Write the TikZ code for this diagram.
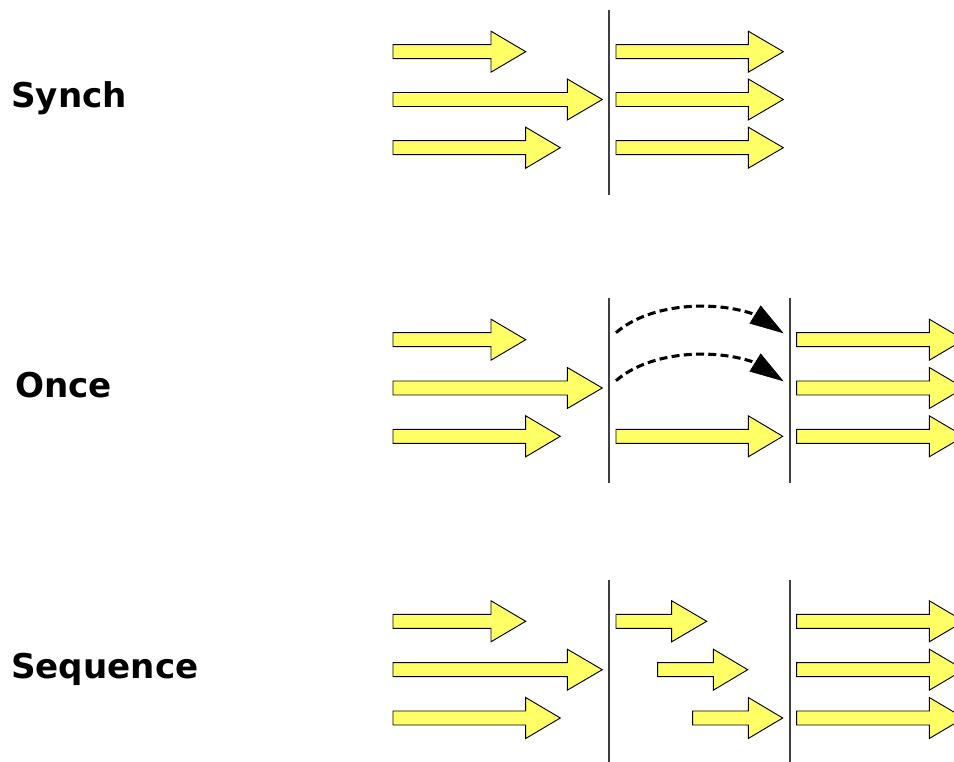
\documentclass[tikz,border=0pt]{standalone}
\usepackage{fontspec}
\setmainfont{DejaVu Sans}
\usetikzlibrary{arrows.meta}
\definecolor{arrowfill}{RGB}{255,255,102}
\tikzset{
  fatarrow/.style={draw=black, fill=arrowfill, line width=0.7pt, line join=miter},
  barrier/.style={draw=black!75, line width=0.9pt},
  hop/.style={draw=black, line width=2.3pt, dash pattern=on 6pt off 3.2pt},
  hophead/.style={fill=black, draw=black, line width=0.5pt, line join=miter},
  label/.style={anchor=base west, inner sep=0pt, font=\bfseries\fontsize{25.6}{30}\selectfont}
}
% \blockarrow{tail x}{centre y}{head base x}{tip x}
\newcommand\blockarrow[4]{%
  \path[fatarrow] (#1,#2-7) -- (#3,#2-7) -- (#3,#2-20.5) -- (#4,#2)
    -- (#3,#2+20.5) -- (#3,#2+7) -- (#1,#2+7) -- cycle;}
% \hoparrow{y offset}: dashed jump over the middle section
\newcommand\hoparrow[1]{%
  \begin{scope}[yshift=-#1*0.75pt]
    \coordinate (hs) at (616,332.7);
    \coordinate (hb) at (755.3,314.7);
    \coordinate (he) at (782.7,332.7);
    \draw[hop] (hs) .. controls (650,303) and (715,300) .. (hb);
    \path[hophead] (760.7,306) -- (he) -- (750,323.3) -- cycle;
  \end{scope}}
\begin{document}
\begin{tikzpicture}[x=0.75pt, y=-0.75pt]
\path[use as bounding box] (0,0) rectangle (954,762);
\clip (0,0) rectangle (954,762);

% row labels
\node[label] (synch) at (11,107.7) {Synch};
\node[label] (once) at (15,397.7) {Once};
\node[label] (sequence) at (11,678.3) {Sequence};

% --- Synch ---
\blockarrow{393}{51.7}{491}{525.7}
\blockarrow{393}{99.5}{567.3}{602.3}
\blockarrow{393}{147.7}{525.7}{560.3}
\draw[barrier] (609,10) -- (609,195);
\blockarrow{616}{51.7}{748.3}{783.3}
\blockarrow{616}{99.5}{748.3}{783.3}
\blockarrow{616}{147.7}{748.3}{783.3}

% --- Once ---
\blockarrow{393}{339.7}{491}{525.7}
\blockarrow{393}{388}{567.3}{602.3}
\blockarrow{393}{436.3}{525.7}{560.3}
\draw[barrier] (609,298) -- (609,483);
\hoparrow{0}
\hoparrow{48}
\blockarrow{616}{436.3}{748.3}{782.7}
\draw[barrier] (790,298) -- (790,483);
\blockarrow{796.7}{339.7}{929.3}{964}
\blockarrow{796.7}{388}{929.3}{964}
\blockarrow{796.7}{436.3}{929.3}{964}

% --- Sequence ---
\blockarrow{393}{621.3}{491}{525.7}
\blockarrow{393}{669.7}{567.3}{602.3}
\blockarrow{393}{718}{525.7}{560.3}
\draw[barrier] (609,580) -- (609,765);
\blockarrow{616}{621.3}{671.7}{706.7}
\blockarrow{657.7}{669.7}{713.3}{747.7}
\blockarrow{692.7}{718}{748.3}{782.7}
\draw[barrier] (790,580) -- (790,765);
\blockarrow{796.7}{621.3}{929.3}{964}
\blockarrow{796.7}{669.7}{929.3}{964}
\blockarrow{796.7}{718}{929.3}{964}
\end{tikzpicture}
\end{document}
